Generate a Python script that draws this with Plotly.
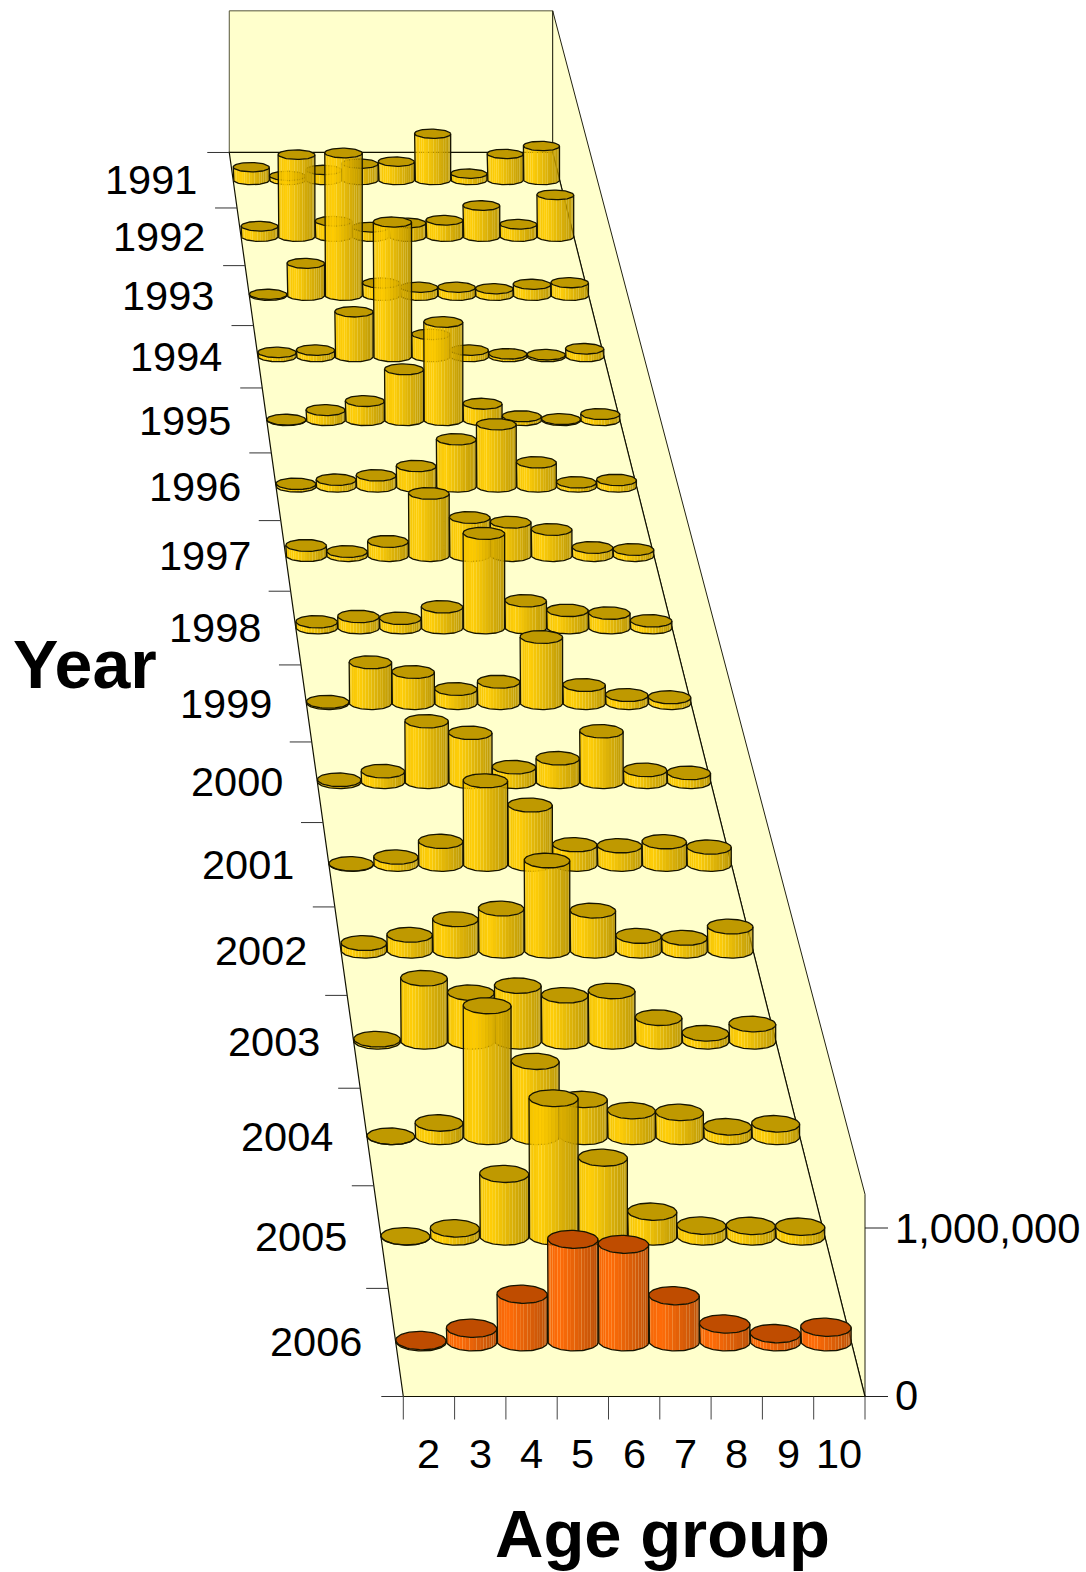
import math
import plotly.graph_objects as go

years = [1991,1992,1993,1994,1995,1996,1997,1998,1999,2000,2001,2002,2003,2004,2005,2006]
ages = [2,3,4,5,6,7,8,9,10]

v1991 = [107000,34000,84000,137000,154000,388000,53000,218000,285000]
v1992 = [85000,674000,126000,77000,112000,134000,255000,101000,343000]
v1993 = [8000,258000,1149000,99000,65000,65000,53000,89000,102000]
v1994 = [32000,50000,354000,1064000,175000,50000,21000,14000,61000]
v1995 = [3000,78000,148000,394000,761000,127000,30000,8000,47000]
v1996 = [20000,51000,84000,155000,358000,472000,183000,31000,49000]
v1997 = [75000,30000,105000,462000,283000,248000,194000,60000,45000]
v1998 = [43000,82000,68000,152000,687000,196000,126000,106000,50000]
v1999 = [9000,290000,221000,100000,152000,470000,128000,57000,41000]
v2000 = [14000,74000,422000,341000,102000,164000,352000,83000,62000]
v2001 = [3000,49000,156000,568000,403000,133000,126000,153000,117000]
v2002 = [50000,105000,209000,280000,599000,266000,98000,85000,160000]
v2003 = [13000,409000,315000,361000,298000,326000,153000,52000,112000]
v2004 = [1000,85000,827000,475000,234000,163000,152000,61000,80000]
v2005 = [1000,50000,386000,853000,486000,153000,67000,65000,60000]
v2006 = [7000,81000,286000,616000,586000,277000,107000,49000,87000]
rows = [v1991,v1992,v1993,v1994,v1995,v1996,v1997,v1998,v1999,v2000,v2001,v2002,v2003,v2004,v2005,v2006]

value_ticks = [0, 1000000]
value_tick_labels = ["0", "1,000,000"]
wall_max = 1200000

# oblique perspective view of the floor (columns across, rows into the page)
D = 37.42
X_LEFT, X_RIGHT, Y_FRONT = 403.3, 865.0, 1396.5
X_VAN, Y_VAN = -177.7, -2757.0
PX_PER_UNIT = 168.5 / 1e6
NCOL, NROW = len(ages), len(years)
CW = (X_RIGHT - X_LEFT) / NCOL


def proj(col, depth, val=0.0):
    s = D / (D + depth)
    x = X_VAN + (X_LEFT + col * CW - X_VAN) * s
    y = Y_VAN + (Y_FRONT - Y_VAN) * s - val * PX_PER_UNIT * s
    return x, y


R_X, R_D = 0.497, 0.085
N_STRIP = 22
OPAC = 0.96
LINE = "#161400"
WALL = "#FFFFCC"


def mix(rgb, f, a=OPAC):
    return "rgba(%d,%d,%d,%.3f)" % (rgb[0] * f, rgb[1] * f, rgb[2] * f, a)


def shade(u):
    if u < 0.22:
        return 0.96 + 0.04 * u / 0.22
    return 1.0 - 0.28 * (u - 0.22) / 0.78


fig = go.Figure()


def poly(xs, ys, fill=None, line=None, width=1.0):
    fig.add_trace(go.Scatter(
        x=xs, y=ys, mode="lines", hoverinfo="skip", showlegend=False,
        fill="toself" if fill else None, fillcolor=fill,
        line=dict(color=line or "rgba(0,0,0,0)", width=width if line else 0),
    ))


# walls and floor
pts = lambda seq: ([p[0] for p in seq], [p[1] for p in seq])
bl = proj(0, NROW); br = proj(NCOL, NROW); fl = proj(0, 0); fr = proj(NCOL, 0)
blt = proj(0, NROW, wall_max); brt = proj(NCOL, NROW, wall_max); frt = proj(NCOL, 0, wall_max)
poly(*pts([bl, br, brt, blt, bl]), fill=WALL, line="#55553a", width=1)
poly(*pts([br, fr, frt, brt, br]), fill=WALL, line="#222211", width=1)
poly(*pts([fl, fr, br, bl, fl]), fill=WALL, line="#111100", width=1.2)

# ticks
TICK = 22
for r in range(NROW + 1):
    x, y = proj(0, r)
    poly([x - TICK, x], [y, y], line="#333333", width=1)
for c in range(NCOL + 1):
    x, y = proj(c, 0)
    poly([x, x], [y, y + TICK + 1], line="#444444", width=1)
for val in value_ticks:
    x, y = proj(NCOL, 0, val)
    poly([x, x + TICK + 1], [y, y], line="#222222", width=1)

# cylinders, back row first
for idx, (year, vals) in enumerate(zip(years, rows)):
    depth = NROW - 1 - idx + 0.5
    base = (255, 102, 0) if year == 2006 else (255, 204, 0)
    sx = [[] for _ in range(N_STRIP)]
    sy = [[] for _ in range(N_STRIP)]
    capx, capy, linex, liney = [], [], [], []
    for col, v in enumerate(vals):
        cc = col + 0.5
        for k in range(N_STRIP):
            a0 = math.pi - math.pi * k / N_STRIP
            a1 = math.pi - math.pi * (k + 1) / N_STRIP
            p0 = proj(cc + R_X * math.cos(a0), depth - R_D * math.sin(a0), 0)
            p1 = proj(cc + R_X * math.cos(a1), depth - R_D * math.sin(a1), 0)
            q0 = proj(cc + R_X * math.cos(a0), depth - R_D * math.sin(a0), v)
            q1 = proj(cc + R_X * math.cos(a1), depth - R_D * math.sin(a1), v)
            sx[k] += [p0[0], p1[0], q1[0], q0[0], p0[0], None]
            sy[k] += [p0[1], p1[1], q1[1], q0[1], p0[1], None]
        # outline of the side
        angs = [math.pi - math.pi * k / 40 for k in range(41)]
        lo = [proj(cc + R_X * math.cos(a), depth - R_D * math.sin(a), 0) for a in angs]
        top0 = proj(cc - R_X, depth, v)
        top1 = proj(cc + R_X, depth, v)
        seq = [top0] + lo + [top1]
        linex += [p[0] for p in seq] + [None]
        liney += [p[1] for p in seq] + [None]
        ell = [proj(cc + R_X * math.cos(2 * math.pi * k / 60),
                    depth - R_D * math.sin(2 * math.pi * k / 60), v) for k in range(61)]
        capx += [p[0] for p in ell] + [None]
        capy += [p[1] for p in ell] + [None]
    for k in range(N_STRIP):
        u = (1 - math.cos(math.pi * (k + 0.5) / N_STRIP)) / 2
        poly(sx[k], sy[k], fill=mix(base, shade(u)))
    poly(capx, capy, fill=mix(base, 0.75, 1.0), line=LINE, width=1.3)
    poly(linex, liney, line=LINE, width=1.3)

# text
FONT = "Liberation Sans, Arial, sans-serif"
ann = []


def label(x, y, text, size, anchor="center", bold=False):
    ann.append(dict(x=x, y=y, xref="x", yref="y", text=("<b>%s</b>" % text) if bold else text,
                    showarrow=False, xanchor=anchor, yanchor="middle",
                    font=dict(family=FONT, size=size, color="#000000"), borderpad=0))


for idx, year in enumerate(years):
    depth = NROW - 1 - idx + 0.5
    x, y = proj(0, depth)
    s = D / (D + depth)
    label(x - (32.5 + (0.987 - s) * 8), y, str(year), 41.5, "right")
for c, age in enumerate(ages):
    x, y = proj(c + 0.5, 0)
    label(x, y + 57, str(age), 41.5)
for val, txt in zip(value_ticks, value_tick_labels):
    x, y = proj(NCOL, 0, val)
    label(x + 29, y - (1 if val == 0 else 0), txt, 41.7, "left")
label(84.5, 664, "Year", 68, bold=True)
label(662, 1533, "Age group", 67, bold=True)

fig.update_layout(
    width=1086, height=1572, margin=dict(l=0, r=0, t=0, b=0),
    paper_bgcolor="white", plot_bgcolor="white", showlegend=False, annotations=ann,
    xaxis=dict(range=[0, 1086], visible=False, fixedrange=True),
    yaxis=dict(range=[1572, 0], visible=False, fixedrange=True),
)
fig.write_html("out.html", config={"displayModeBar": False},
               post_script="document.body.style.margin='0';document.body.style.overflow='hidden';")
